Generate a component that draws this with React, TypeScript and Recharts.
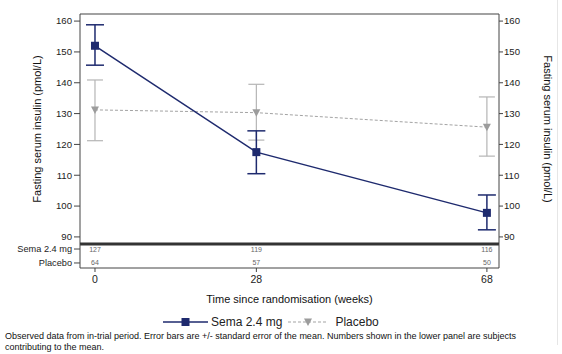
import React from 'react';
import { ComposedChart, Line, XAxis, YAxis, ErrorBar, Scatter, LabelList, ReferenceLine } from 'recharts';

const weeks = [0, 28, 68];
const semaMean = [152.0, 117.5, 97.8];
const semaLower = [145.7, 110.5, 92.3];
const semaUpper = [158.8, 124.4, 103.6];
const placeboMean = [131.2, 130.3, 125.6];
const placeboLower = [121.2, 121.4, 116.2];
const placeboUpper = [140.9, 139.5, 135.4];
const semaN = [127, 119, 116];
const placeboN = [64, 57, 50];
const rowLabels = ['Sema 2.4 mg', 'Placebo'];
const yTicks = [90, 100, 110, 120, 130, 140, 150, 160];

const SEMA = '#1e2a6e';
const PLAC = '#a3a3a3';
const FRAME = '#444';
const FONT = '"Liberation Sans", Arial, sans-serif';
const X_DOMAIN: [number, number] = [-2.6, 70.1];
const Y_DOMAIN: [number, number] = [87.7, 162.3];
const ROW_DOMAIN: [number, number] = [0.64, 2.36];

const mainData = weeks.map((w, i) => ({
  week: w,
  sema: semaMean[i],
  semaErr: [semaMean[i] - semaLower[i], semaUpper[i] - semaMean[i]],
  placebo: placeboMean[i],
  placeboErr: [placeboMean[i] - placeboLower[i], placeboUpper[i] - placeboMean[i]],
}));

const countData = [
  ...weeks.map((w, i) => ({ week: w, row: 1, n: semaN[i] })),
  ...weeks.map((w, i) => ({ week: w, row: 2, n: placeboN[i] })),
];

const SquareDot = (props: any) => {
  const { cx, cy, index } = props;
  if (cx == null || cy == null) return <g key={`sq-${index}`} />;
  return <rect key={`sq-${index}`} x={cx - 4} y={cy - 4} width={8} height={8} fill={SEMA} />;
};

const TriDot = (props: any) => {
  const { cx, cy, index } = props;
  if (cx == null || cy == null) return <g key={`tr-${index}`} />;
  return (
    <path
      key={`tr-${index}`}
      d={`M${cx - 4},${cy - 3.5} L${cx + 4},${cy - 3.5} L${cx},${cy + 4} Z`}
      fill="#9c9c9c"
    />
  );
};

const RowTick = (props: any) => {
  const { x, y, payload } = props;
  return (
    <text x={x} y={y} dy={3.3} textAnchor="end" fontSize={9.2} fill="#222" fontFamily={FONT}>
      {rowLabels[payload.value - 1]}
    </text>
  );
};

const CountLabel = (props: any) => {
  const { x, y, width, height, value } = props;
  const cx = x + (width || 0) / 2;
  const cy = y + (height || 0) / 2;
  return (
    <text x={cx} y={cy} dy={2.5} textAnchor="middle" fontSize={7} fill="#666" fontFamily={FONT}>
      {value}
    </text>
  );
};

const tickStyle = { fontSize: 9.6, fill: '#222', fontFamily: FONT };
const axisTitleStyle = { fontSize: 11, fill: '#111', fontFamily: FONT, textAnchor: 'middle' as const };

export default function App() {
  return (
    <div style={{ position: 'absolute', left: 0, top: 0, width: 562, height: 354, background: '#fff', fontFamily: FONT }}>
      <div style={{ position: 'absolute', left: 0, top: 0 }}>
        <ComposedChart width={562} height={244} data={mainData} margin={{ top: 14, right: 0, bottom: 0, left: 0 }}>
          <XAxis dataKey="week" type="number" domain={X_DOMAIN} allowDataOverflow hide />
          <YAxis
            yAxisId="left"
            type="number"
            domain={Y_DOMAIN}
            ticks={yTicks}
            allowDataOverflow
            width={80}
            tickSize={6}
            tickMargin={2}
            tick={tickStyle}
            axisLine={{ stroke: FRAME }}
            tickLine={{ stroke: FRAME }}
            label={{ value: 'Fasting serum insulin (pmol/L)', angle: -90, position: 'insideLeft', offset: 37, style: axisTitleStyle }}
          />
          <YAxis
            yAxisId="right"
            orientation="right"
            type="number"
            domain={Y_DOMAIN}
            ticks={yTicks}
            allowDataOverflow
            width={63}
            tickSize={4}
            tickMargin={1}
            tick={tickStyle}
            axisLine={{ stroke: FRAME }}
            tickLine={{ stroke: FRAME }}
            label={{ value: 'Fasting serum insulin (pmol/L)', angle: 90, position: 'insideRight', offset: 14, style: axisTitleStyle }}
          />
          <ReferenceLine yAxisId="left" y={Y_DOMAIN[1]} stroke={FRAME} strokeWidth={1.2} />
          <Line
            yAxisId="left"
            dataKey="placebo"
            type="linear"
            stroke={PLAC}
            strokeWidth={1}
            strokeDasharray="3 2"
            dot={TriDot}
            activeDot={false}
            isAnimationActive={false}
          >
            <ErrorBar dataKey="placeboErr" width={8} stroke="#b5b5b5" strokeWidth={1.2} direction="y" />
          </Line>
          <Line
            yAxisId="left"
            dataKey="sema"
            type="linear"
            stroke={SEMA}
            strokeWidth={1.5}
            dot={SquareDot}
            activeDot={false}
            isAnimationActive={false}
          >
            <ErrorBar dataKey="semaErr" width={9} stroke={SEMA} strokeWidth={1.5} direction="y" />
          </Line>
        </ComposedChart>
      </div>
      <div style={{ position: 'absolute', left: 0, top: 0 }}>
        <ComposedChart width={562} height={354} data={countData} margin={{ top: 244, right: 0, bottom: 66, left: 0 }}>
          <XAxis
            dataKey="week"
            type="number"
            domain={X_DOMAIN}
            allowDataOverflow
            ticks={weeks}
            interval={0}
            height={20}
            tickSize={4}
            tickMargin={4}
            tick={{ ...tickStyle, fontSize: 10.5 }}
            axisLine={{ stroke: FRAME }}
            tickLine={{ stroke: FRAME }}
          />
          <YAxis
            yAxisId="left"
            dataKey="row"
            type="number"
            domain={ROW_DOMAIN}
            allowDataOverflow
            reversed
            ticks={[1, 2]}
            interval={0}
            width={80}
            tickSize={6}
            tickMargin={2}
            tick={RowTick}
            axisLine={{ stroke: FRAME }}
            tickLine={{ stroke: FRAME }}
          />
          <YAxis yAxisId="right" orientation="right" type="number" domain={[0, 1]} ticks={[]} tick={false} width={63} axisLine={{ stroke: FRAME }} />
          <ReferenceLine yAxisId="left" y={ROW_DOMAIN[0]} stroke="#333" strokeWidth={3} />
          <Scatter yAxisId="left" dataKey="row" fill="#666" isAnimationActive={false} shape={() => <g />}>
            <LabelList dataKey="n" position="center" content={CountLabel} />
          </Scatter>
        </ComposedChart>
      </div>
      <div style={{ position: 'absolute', left: 80, width: 419, top: 293, textAlign: 'center', fontSize: 11, color: '#111' }}>
        Time since randomisation (weeks)
      </div>
      <div style={{ position: 'absolute', left: 163, top: 314, height: 16, display: 'flex', alignItems: 'center', fontSize: 12, color: '#222' }}>
        <svg width={45} height={16}>
          <line x1={0} y1={8} x2={45} y2={8} stroke={SEMA} strokeWidth={1.5} />
          <rect x={18.5} y={4} width={8} height={8} fill={SEMA} />
        </svg>
        <span style={{ marginLeft: 3 }}>Sema 2.4 mg</span>
        <svg width={40} height={16} style={{ marginLeft: 6 }}>
          <line x1={0} y1={8} x2={40} y2={8} stroke={PLAC} strokeWidth={1} strokeDasharray="3 2" />
          <path d="M16,4.5 L24,4.5 L20,12 Z" fill="#9c9c9c" />
        </svg>
        <span style={{ marginLeft: 7 }}>Placebo</span>
      </div>
      <div style={{ position: 'absolute', left: 5, top: 331, width: 550, fontSize: 9, lineHeight: '11px', color: '#111' }}>
        Observed data from in-trial period. Error bars are +/- standard error of the mean. Numbers shown in the lower panel are subjects contributing to the mean.
      </div>
      <div style={{ position: 'absolute', left: 557, top: 0, width: 1, height: 345, background: '#e6e6e6' }} />
    </div>
  );
}
